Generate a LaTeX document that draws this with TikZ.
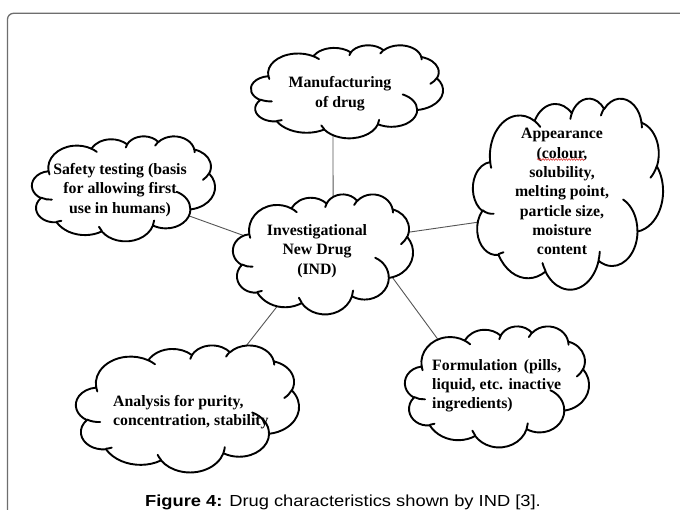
\documentclass[tikz,border=0pt]{standalone}
\usepackage{fontspec}
\usepackage{graphicx}
\setmainfont{Liberation Serif}
\newfontfamily\capfont{Liberation Sans}
\usetikzlibrary{shapes.geometric,backgrounds,decorations.pathmorphing}

\definecolor{linkgray}{RGB}{85,85,85}
\definecolor{framegray}{RGB}{110,110,110}
\definecolor{spellred}{RGB}{220,40,40}

% Elliptic arc given as in DrawingML: x radius, y radius, start angle and
% sweep (both measured as visual angles, degrees); converted to the
% parametric angles that TikZ's arc expects.
\newcommand\warc[4]{\pgfextra{%
  \pgfmathsetmacro\wTs{atan2((#1)*sin(#3),(#2)*cos(#3))}%
  \pgfmathsetmacro\wTe{atan2((#1)*sin((#3)+(#4)),(#2)*cos((#3)+(#4)))}%
  \pgfmathsetmacro\wD{mod((\wTe)-(\wTs)+720,360)}}%
  arc[start angle=\wTs, delta angle=\wD, x radius=#1, y radius=#2]}

% Cloud outline (43.2 x 43.2 design grid) in the box x,y,w,h,
% plus an elliptic port node carrying the name.
\newcommand\wordcloud[5]{%
  \pgfmathsetmacro\cux{#4/43.2}%
  \pgfmathsetmacro\cuy{-#5/43.2}%
  \begin{scope}[shift={(#2,#3)}, x=\cux pt, y=\cuy pt]
    \filldraw[cloudline] (3.9,14.37)
      \warc{6.753}{9.19}{-190.4875}{123.7805}
      \warc{5.333}{7.267}{-144.1024}{89.9452}
      \warc{4.365}{5.945}{-145.8079}{99.7230}
      \warc{4.857}{6.595}{-130.9861}{117.2417}
      \warc{5.333}{7.273}{-78.7089}{109.0269}
      \warc{6.775}{9.22}{-46.2673}{130.269}
      \warc{5.785}{7.867}{0.625}{114.0333}
      \warc{6.752}{9.215}{22.4516}{115.1726}
      \warc{7.72}{10.543}{66.2426}{75.711}
      \warc{4.36}{5.918}{-274.9421}{146.7356}
      \warc{4.345}{5.945}{-246.8285}{152.5189}
      -- cycle;
    \draw[cloudhint]
      (4.693,26.177) \warc{4.345}{5.945}{86.742}{26.4295}
      (6.928,34.899) \warc{4.36}{5.918}{73.6105}{11.4475}
      (16.478,39.09) \warc{6.752}{9.215}{137.6241}{14.0811}
      (28.827,34.751) \warc{6.752}{9.215}{6.4533}{15.9984}
      (34.129,22.954) \warc{5.785}{7.867}{-70.2924}{70.9174}
      (41.798,15.354) \warc{5.333}{7.273}{30.318}{27.7515}
      (38.324,5.426) \warc{4.857}{6.595}{-13.7443}{14.8547}
      (29.078,3.952) \warc{4.857}{6.595}{-149.1815}{18.1954}
      (22.141,4.72) \warc{4.365}{5.945}{-163.4943}{17.6864}
      (14,5.192) \warc{6.753}{9.19}{-66.707}{12.3194}
      (4.127,15.789) \warc{6.753}{9.19}{157.6544}{11.8582};
  \end{scope}
  \node[port, minimum width={0.8*#4pt}, minimum height={0.8*#5pt}]
    (#1) at ({#2+#4/2},{#3+#5/2}) {};
}

\tikzset{
  cloudline/.style={line width=1.9pt, draw=black, fill=white, line join=round},
  cloudhint/.style={line width=1.9pt, draw=black, line cap=round},
  port/.style={ellipse, draw=none, inner sep=0pt, outer sep=0pt},
  link/.style={line width=0.9pt, draw=linkgray},
  frameline/.style={line width=1.3pt, draw=framegray, rounded corners=6pt},
  cloudtext/.style={font=\fontsize{15.8pt}{19.3pt}\selectfont\bfseries,
    inner sep=0pt, text=black},
  captext/.style={font=\capfont\fontsize{16pt}{19pt}\selectfont, inner sep=0pt}
}

\begin{document}
\begin{tikzpicture}[x=1pt, y=-1pt]
  \useasboundingbox (0,0) rectangle (680,509);

  % outer frame, running off the right and bottom edges
  \begin{scope}
    \clip (0,0) rectangle (680,509);
    \draw[frameline] (7.5,13.3) rectangle (720,560);
  \end{scope}

  % clouds
  \wordcloud{manu}{251}{45}{192}{93}
  \wordcloud{safety}{32}{136}{183}{105}
  \wordcloud{ind}{233}{194}{180}{120}
  \wordcloud{appear}{473}{98}{190}{191}
  \wordcloud{form}{405}{326}{184}{121}
  \wordcloud{anal}{76}{345}{223}{127}

  % connectors, kept behind the clouds
  \begin{pgfonlayer}{background}
    \fill[white] (0,0) rectangle (680,509);
    \draw[link] (manu.249.07) -- (ind.78.11);
    \draw[link] (safety.337.2) -- (ind.168.02);
    \draw[link] (ind.16.26) -- (appear.200.5);
    \draw[link] (ind.344.44) -- (form.145.19);
    \draw[link] (ind.228.71) -- (anal.45.29);
  \end{pgfonlayer}

  % cloud texts
  \node[cloudtext, align=center] (manutext) at (340,93.8)
    {Manufacturing\\of drug};
  \node[cloudtext, align=center] (safetytext) at (120,190)
    {Safety testing (basis\\for allowing first\\use in humans)};
  \node[cloudtext, align=center] (indtext) at (317,251)
    {Investigational\\New Drug\\(IND)};
  \node[cloudtext, align=center] (appeartext) at (562,191.6)
    {Appearance\\(colour,\\solubility,\\melting point,\\particle size,\\moisture\\content};
  \node[cloudtext, align=left, anchor=west] (formtext) at (432,385.8)
    {\makebox[129pt][s]{Formulation (pills,}\\\makebox[129pt][s]{liquid, etc. inactive}\\ingredients)};
  \node[cloudtext, align=left, anchor=west] (analtext) at (113,411.8)
    {Analysis for purity,\\concentration, stability};

  % spelling mark under "colour"
  \draw[spellred, line width=0.5pt, decorate,
        decoration={snake, amplitude=0.9pt, segment length=2.6pt}]
    (537,159.5) -- (585,159.5);

  % caption
  \node[captext, anchor=base] (caption) at (343,506)
    {\scalebox{1.145}[1]{\textbf{Figure 4:} Drug characteristics shown by IND [3].}};
\end{tikzpicture}
\end{document}
